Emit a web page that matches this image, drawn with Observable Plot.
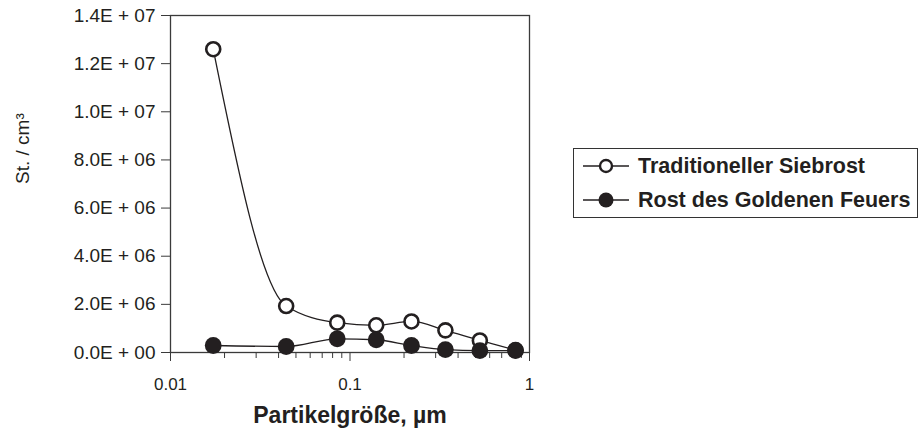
<!DOCTYPE html>
<html>
<head>
<meta charset="utf-8">
<script src="https://cdn.jsdelivr.net/npm/d3@7"></script>
<script src="https://cdn.jsdelivr.net/npm/@observablehq/plot@0.6"></script>
<style>
  html, body { margin: 0; padding: 0; background: #fff; }
  #wrap { position: relative; width: 924px; height: 442px; font-family: "Liberation Sans", Arial, sans-serif; color: #231f20; }
  #legend { position: absolute; left: 573px; top: 148px; width: 345px; height: 70px; border: 1.5px solid #333; box-sizing: border-box; padding: 0 0 0 9px; }
  .row { display: flex; align-items: center; height: 34px; font-weight: bold; font-size: 21.5px; white-space: nowrap; }
  .row svg { margin-right: 9px; }
</style>
</head>
<body>
<div id="wrap">
  <div id="chart"></div>
  <div id="legend"></div>
</div>
<script>
// ---- data ----
const sizes = [0.0173, 0.0441, 0.0849, 0.140, 0.220, 0.340, 0.529, 0.836];
const traditioneller = [12.6e6, 1.93e6, 1.24e6, 1.13e6, 1.29e6, 0.92e6, 0.50e6, 0.10e6];
const goldenenFeuers = [0.29e6, 0.25e6, 0.57e6, 0.53e6, 0.29e6, 0.12e6, 0.08e6, 0.08e6];
const seriesNames = ["Traditioneller Siebrost", "Rost des Goldenen Feuers"];

const yTicks = [0, 2e6, 4e6, 6e6, 8e6, 10e6, 12e6, 14e6];
const yTickLabels = ["0.0E + 00", "2.0E + 06", "4.0E + 06", "6.0E + 06", "8.0E + 06", "1.0E + 07", "1.2E + 07", "1.4E + 07"];
const xTicks = [0.01, 0.1, 1];
const xTickLabels = ["0.01", "0.1", "1"];
const xMinorTicks = [0.02, 0.03, 0.04, 0.05, 0.06, 0.07, 0.08, 0.09, 0.2, 0.3, 0.4, 0.5, 0.6, 0.7, 0.8, 0.9];
const xTitle = "Partikelgröße, µm";
const yTitle = "St. / cm³";

// ---- build rows ----
const open = sizes.map((s, i) => ({size: s, value: traditioneller[i]}));
const filled = sizes.map((s, i) => ({size: s, value: goldenenFeuers[i]}));

const ink = "#231f20";
const axisInk = "#3a3a3a";

const chart = Plot.plot({
  width: 924,
  height: 442,
  marginLeft: 170,
  marginRight: 395,
  marginTop: 15,
  marginBottom: 90,
  style: {fontFamily: "'Liberation Sans', Arial, sans-serif", color: ink, background: "white"},
  x: {type: "log", domain: [0.01, 1]},
  y: {domain: [0, 14e6]},
  marks: [
    Plot.frame({stroke: axisInk, strokeWidth: 1.3}),
    Plot.axisY({ticks: yTicks, tickFormat: (d) => yTickLabels[yTicks.indexOf(d)], tickSize: 9, tickPadding: 6, fontSize: 19, stroke: axisInk, label: null}),
    Plot.axisX({ticks: xMinorTicks, tickFormat: () => "", tickSize: 6, stroke: axisInk, label: null}),
    Plot.axisX({ticks: xTicks, tickFormat: (d) => xTickLabels[xTicks.indexOf(d)], tickSize: 9, tickPadding: 16, fontSize: 17, stroke: axisInk, label: null}),
    Plot.text([yTitle], {frameAnchor: "left", dx: -148, rotate: -90, fontSize: 19, fill: ink}),
    Plot.text([xTitle], {frameAnchor: "bottom", dy: 70, fontSize: 23, fontWeight: "bold", fill: ink}),
    Plot.line(open, {x: "size", y: "value", curve: "monotone-x", stroke: ink, strokeWidth: 1.3}),
    Plot.dot(open, {x: "size", y: "value", r: 7, fill: "white", stroke: ink, strokeWidth: 2.6}),
    Plot.line(filled, {x: "size", y: "value", curve: "monotone-x", stroke: ink, strokeWidth: 1.3}),
    Plot.dot(filled, {x: "size", y: "value", r: 8.4, fill: ink, stroke: "none"})
  ]
});
document.getElementById("chart").appendChild(chart);

// ---- legend ----
const legend = document.getElementById("legend");
seriesNames.forEach((name, i) => {
  const row = document.createElement("div");
  row.className = "row";
  const sample = i === 0
    ? `<svg width="46" height="20"><line x1="0" y1="10" x2="46" y2="10" stroke="${ink}" stroke-width="1.5"/><circle cx="23" cy="10" r="6" fill="white" stroke="${ink}" stroke-width="2.4"/></svg>`
    : `<svg width="46" height="20"><line x1="0" y1="10" x2="46" y2="10" stroke="${ink}" stroke-width="1.5"/><circle cx="23" cy="10" r="7.5" fill="${ink}"/></svg>`;
  row.innerHTML = sample + `<span>${name}</span>`;
  legend.appendChild(row);
});
</script>
</body>
</html>
